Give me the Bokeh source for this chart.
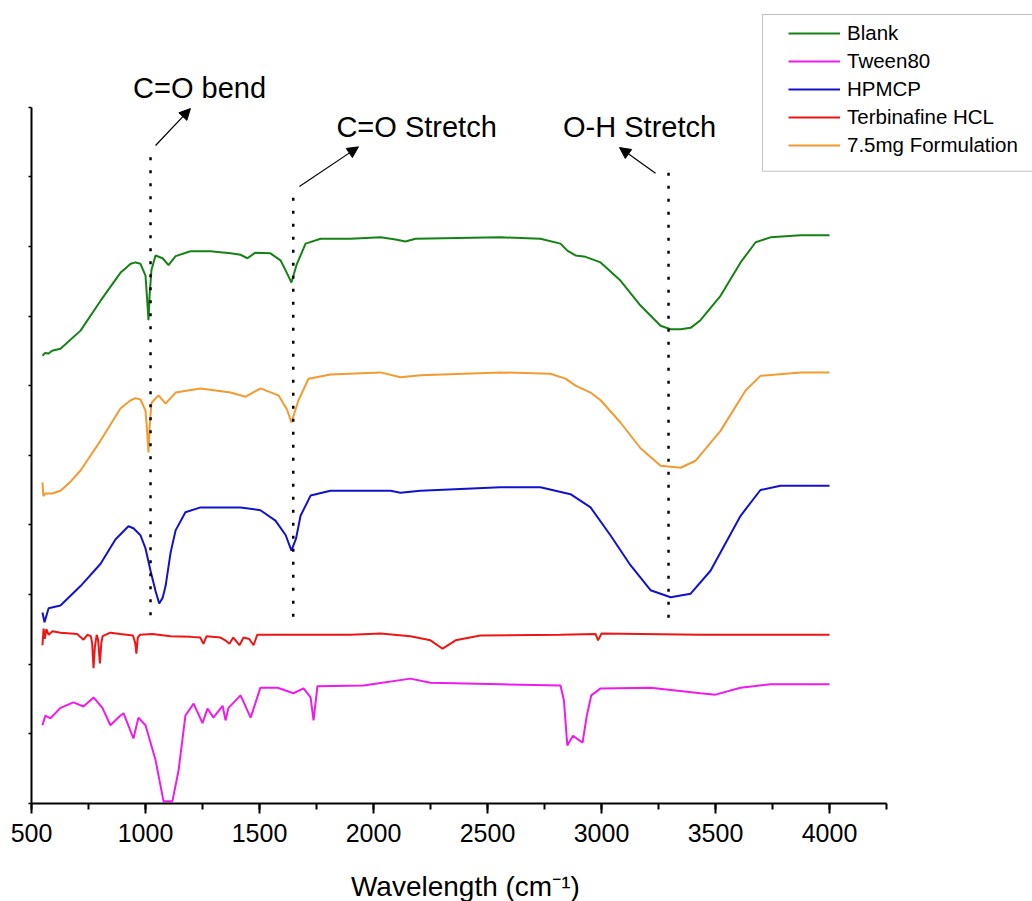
from bokeh.plotting import figure
from bokeh.models import (Range1d, SingleIntervalTicker, FixedTicker, Legend, LegendItem,
                          Label, Arrow, NormalHead, BoxAnnotation, LinearAxis)
from bokeh.embed import file_html
from bokeh.resources import INLINE

FONT = "Liberation Sans"

# ---------------- data (wavenumber cm^-1, offset transmittance a.u.) ----------------
blank_x = [548, 560, 575, 590, 627, 715, 803, 890, 935, 956, 978, 1000, 1008, 1013, 1018, 1026,
           1044, 1075, 1101, 1132, 1197, 1285, 1373, 1417, 1447, 1482, 1548, 1592, 1620, 1640,
           1662, 1702, 1768, 1899, 2031, 2097, 2140, 2184, 2557, 2732, 2820, 2850, 2886, 2930,
           2996, 3083, 3171, 3259, 3303, 3347, 3391, 3434, 3522, 3610, 3676, 3741, 3873, 4000]
blank_y = [6.43, 6.47, 6.46, 6.50, 6.53, 6.79, 7.22, 7.62, 7.75, 7.77, 7.75, 7.58, 7.20, 6.94, 7.30, 7.66,
           7.87, 7.83, 7.73, 7.86, 7.93, 7.93, 7.90, 7.88, 7.83, 7.91, 7.90, 7.80, 7.62, 7.48,
           7.73, 8.04, 8.11, 8.11, 8.13, 8.10, 8.07, 8.11, 8.13, 8.11, 8.04, 7.94, 7.87, 7.85,
           7.77, 7.51, 7.15, 6.86, 6.81, 6.81, 6.83, 6.94, 7.29, 7.77, 8.06, 8.13, 8.16, 8.16]

form_x = [548, 552, 560, 590, 627, 671, 715, 803, 890, 935, 956, 978, 1000, 1008, 1013, 1018, 1026,
          1057, 1088, 1132, 1241, 1373, 1439, 1504, 1583, 1620, 1640, 1671, 1715, 1811, 2031,
          2118, 2206, 2557, 2776, 2842, 2886, 2952, 2996, 3083, 3171, 3259, 3347, 3412, 3522,
          3632, 3697, 3873, 4000]
form_y = [4.61, 4.41, 4.45, 4.45, 4.49, 4.62, 4.78, 5.21, 5.67, 5.79, 5.82, 5.80, 5.64, 5.30, 5.04, 5.40, 5.75,
          5.86, 5.74, 5.90, 5.96, 5.90, 5.84, 5.96, 5.86, 5.66, 5.47, 5.79, 6.10, 6.16, 6.19,
          6.12, 6.15, 6.19, 6.17, 6.10, 6.00, 5.90, 5.79, 5.47, 5.10, 4.85, 4.82, 4.92, 5.35,
          5.93, 6.14, 6.19, 6.19]

hpmcp_x = [548, 557, 575, 627, 715, 803, 868, 925, 947, 978, 1000, 1022, 1044, 1060, 1075, 1088,
           1110, 1132, 1175, 1241, 1417, 1504, 1570, 1615, 1640, 1660, 1680, 1724, 1811, 2075,
           2118, 2206, 2557, 2732, 2864, 2952, 3039, 3127, 3215, 3303, 3391, 3478, 3610, 3697,
           3785, 4000]
hpmcp_y = [2.74, 2.60, 2.80, 2.84, 3.12, 3.44, 3.79, 3.98, 3.95, 3.85, 3.66, 3.34, 3.05, 2.87, 2.95, 3.12,
           3.60, 3.92, 4.18, 4.25, 4.25, 4.21, 4.06, 3.85, 3.63, 3.80, 4.13, 4.42, 4.49, 4.49,
           4.46, 4.49, 4.54, 4.54, 4.44, 4.25, 3.85, 3.42, 3.06, 2.96, 3.01, 3.34, 4.13, 4.50,
           4.56, 4.56]

terb_x = [548, 553, 558, 565, 575, 592, 627, 671, 700, 728, 745, 760, 766, 772, 778, 786, 792, 800,
          806, 812, 846, 890, 945, 955, 960, 966, 975, 1030, 1110, 1197, 1240, 1254, 1268, 1329,
          1350, 1368, 1385, 1412, 1430, 1455, 1474, 1490, 1680, 1899, 2031, 2162, 2250, 2303,
          2360, 2469, 2820, 2974, 2985, 3000, 3434, 4000]
terb_y = [2.27, 2.51, 2.36, 2.50, 2.42, 2.47, 2.45, 2.44, 2.43, 2.35, 2.42, 2.40, 2.30, 1.94, 2.25, 2.42, 2.35, 2.01,
          2.30, 2.40, 2.45, 2.43, 2.41, 2.30, 2.15, 2.38, 2.42, 2.43, 2.40, 2.39, 2.38, 2.29, 2.40, 2.38,
          2.34, 2.29, 2.38, 2.27, 2.38, 2.36, 2.27, 2.42, 2.42, 2.42, 2.44, 2.40, 2.34, 2.22,
          2.34, 2.41, 2.42, 2.43, 2.34, 2.44, 2.42, 2.42]

tween_x = [548, 561, 583, 627, 684, 728, 772, 811, 846, 890, 904, 947, 969, 1000, 1044, 1079, 1118,
           1145, 1175, 1211, 1250, 1272, 1298, 1338, 1351, 1364, 1417, 1461, 1504, 1579, 1649,
           1693, 1724, 1737, 1754, 1956, 2162, 2250, 2557, 2820, 2835, 2850, 2875, 2917, 2935,
           2955, 2996, 3215, 3434, 3500, 3610, 3741, 4000]
tween_y = [1.12, 1.26, 1.22, 1.37, 1.45, 1.39, 1.52, 1.37, 1.12, 1.26, 1.29, 0.93, 1.23, 1.12, 0.62, 0.03, 0.03,
           0.47, 1.26, 1.43, 1.15, 1.36, 1.23, 1.40, 1.19, 1.37, 1.55, 1.23, 1.66, 1.66, 1.58,
           1.65, 1.52, 1.19, 1.68, 1.69, 1.79, 1.73, 1.71, 1.69, 1.48, 0.83, 0.97, 0.87, 1.25,
           1.55, 1.65, 1.66, 1.58, 1.56, 1.66, 1.71, 1.71]

series_names = ["Blank", "Tween80", "HPMCP", "Terbinafine HCL", "7.5mg Formulation"]
series_colors = ["#148214", "#ee1aee", "#1212cc", "#ee1515", "#f39a30"]

# band markers (wavenumber) and annotation texts
band_x = [1022, 1648, 3294]
band_top = [9.28, 8.70, 9.06]
band_bottom = [2.67, 2.65, 2.55]
band_labels = ["C=O bend", "C=O Stretch", "O-H Stretch"]

X_TITLE = "Wavelength (cm\u207b\u00b9)"

# axis extents actually drawn
X_AXIS_BOUNDS = (500, 4250)
Y_AXIS_BOUNDS = (0, 10)

# ---------------- figure ----------------
# the frame fills the whole canvas so that annotations, legend and titles are never clipped;
# both axes are drawn at fixed locations and limited with bounds
p = figure(width=1032, height=901, output_backend="svg", toolbar_location=None,
           x_axis_location=None, y_axis_location=None,
           x_range=Range1d(364.0, 4890.3), y_range=Range1d(-1.412, 11.533),
           min_border_left=0, min_border_right=0, min_border_top=0, min_border_bottom=0)
p.outline_line_color = None
p.grid.visible = False
p.background_fill_color = "white"
p.border_fill_color = "white"

xa = LinearAxis(fixed_location=0, bounds=X_AXIS_BOUNDS,
                ticker=SingleIntervalTicker(interval=500, num_minor_ticks=2))
xa.major_label_text_font = FONT
xa.major_label_text_font_size = "25px"
xa.major_label_text_color = "black"
xa.major_label_standoff = 11
xa.axis_line_width = 2
xa.axis_line_color = "black"
xa.major_tick_line_width = 2
xa.minor_tick_line_width = 2
xa.major_tick_line_color = "black"
xa.minor_tick_line_color = "black"
xa.major_tick_in = 0
xa.major_tick_out = 10
xa.minor_tick_in = 0
xa.minor_tick_out = 6
p.add_layout(xa, "below")

ya = LinearAxis(fixed_location=500, bounds=Y_AXIS_BOUNDS,
                ticker=FixedTicker(ticks=list(range(0, 11)), minor_ticks=[]))
ya.major_label_overrides = {i: "" for i in range(0, 11)}
ya.major_label_standoff = 0
ya.axis_line_width = 2
ya.axis_line_color = "black"
ya.major_tick_line_width = 1.5
ya.major_tick_line_color = "black"
ya.major_tick_in = 0
ya.major_tick_out = 3
ya.minor_tick_out = 0
ya.minor_tick_in = 0
p.add_layout(ya, "left")

# x title, centred under the drawn axis
p.add_layout(Label(x=2403, y=-1.19, text=X_TITLE, text_align="center", text_baseline="middle",
                   text_font=FONT, text_font_size="28px", text_color="black"))

data = [(blank_x, blank_y), (tween_x, tween_y), (hpmcp_x, hpmcp_y),
        (terb_x, terb_y), (form_x, form_y)]
renderers = []
for (xs, ys), name, col in zip(data, series_names, series_colors):
    r = p.line(xs, ys, line_color=col, line_width=2)
    renderers.append(r)

# dotted band markers
p.segment(x0=band_x, y0=band_top, x1=band_x, y1=band_bottom,
          line_color="black", line_width=2.5, line_dash="3 10")

# arrows
arrow_specs = [((1044, 9.45), (1197, 9.98)),
               ((1675, 8.86), (1934, 9.43)),
               ((3237, 9.05), (3079, 9.42))]
for (xs0, ys0), (xs1, ys1) in arrow_specs:
    p.add_layout(Arrow(end=NormalHead(size=11, fill_color="black", line_color="black", line_width=1),
                       x_start=xs0, y_start=ys0, x_end=xs1, y_end=ys1,
                       line_color="black", line_width=1.2))

label_pos = [(1237, 10.27), (2189, 9.71), (3167, 9.71)]
for (lx, ly), txt in zip(label_pos, band_labels):
    p.add_layout(Label(x=lx, y=ly, text=txt, text_align="center", text_baseline="middle",
                       text_font=FONT, text_font_size="29px", text_color="black"))

# legend frame (runs off the right edge, as in the original figure)
p.add_layout(BoxAnnotation(left=3706, right=4990, top=11.332, bottom=9.08,
                           fill_color="white", fill_alpha=1.0,
                           line_color="#333333", line_width=1, level="annotation"))

legend = Legend(items=[LegendItem(label=n, renderers=[r]) for n, r in zip(series_names, renderers)],
                location=(788, 744), padding=7, spacing=4, margin=0,
                glyph_width=52, glyph_height=20, label_height=20, label_standoff=7,
                label_text_font=FONT, label_text_font_size="20.5px", label_text_color="black",
                border_line_color=None, background_fill_alpha=0.0)
p.add_layout(legend)

open("out.html", "w").write(file_html(p, INLINE))
